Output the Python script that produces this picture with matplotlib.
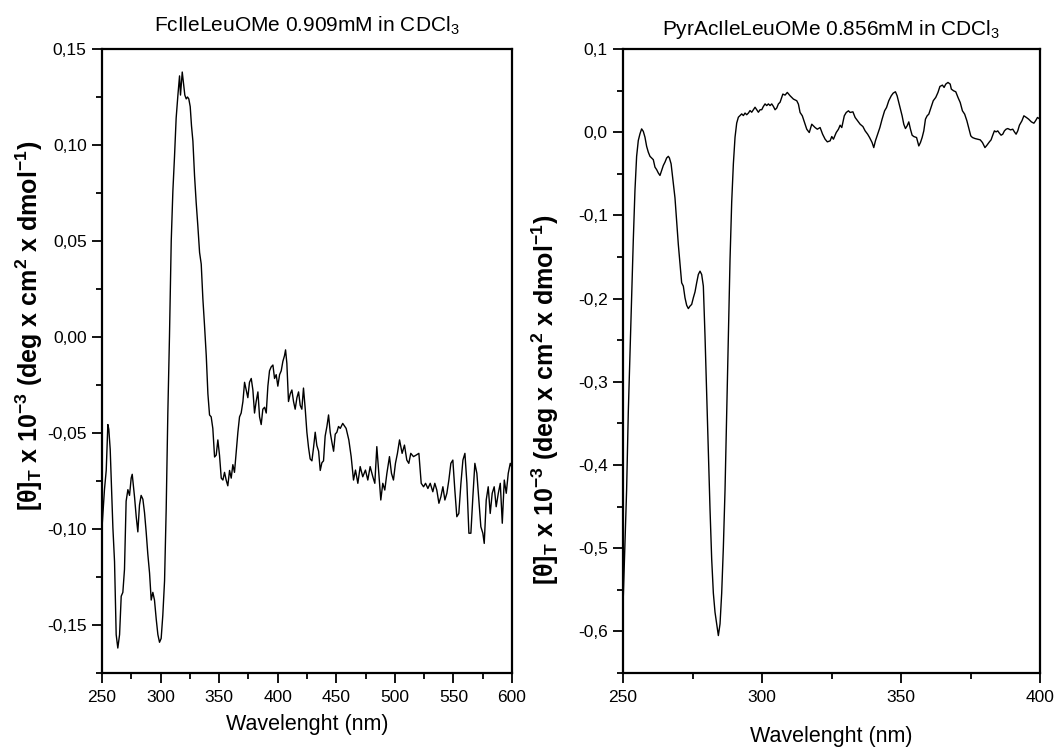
import matplotlib
matplotlib.use("Agg")
import matplotlib.pyplot as plt
from matplotlib.ticker import FixedLocator, FixedFormatter, MultipleLocator

plt.rcParams['font.family'] = ['Liberation Sans', 'DejaVu Sans']
plt.rcParams['mathtext.fontset'] = 'custom'
plt.rcParams['mathtext.rm'] = 'Liberation Sans'
plt.rcParams['mathtext.it'] = 'Liberation Sans:italic'
plt.rcParams['mathtext.bf'] = 'Liberation Sans:bold'

# ---- CD spectrum: FcIleLeuOMe 0.909 mM in CDCl3 ----
fc_wavelength = [
    250.0, 252.1, 253.6, 255.0, 255.8, 257.0, 258.1, 259.3, 260.7, 262.1,
    263.5, 265.0, 266.4, 267.8, 269.2, 270.6, 272.1, 273.5, 274.9, 275.8,
    277.8, 279.2, 280.6, 282.0, 283.4, 284.9, 286.3, 287.7, 289.1, 290.6,
    292.0, 293.4, 294.8, 296.3, 297.7, 299.1, 300.5, 301.9, 303.4, 304.8,
    306.2, 307.6, 309.1, 310.5, 311.9, 313.3, 314.8, 316.2, 317.0, 318.5,
    319.6, 320.7, 321.9, 323.0, 324.1, 325.3, 326.4, 327.6, 329.0, 330.4,
    331.8, 333.3, 334.7, 336.1, 337.5, 339.0, 340.4, 341.8, 343.2, 344.6,
    346.1, 347.5, 348.9, 350.3, 351.8, 353.2, 354.6, 356.0, 357.4, 358.9,
    360.3, 361.7, 363.1, 364.6, 366.0, 367.4, 368.8, 370.3, 371.7, 373.1,
    374.5, 375.9, 377.4, 378.8, 380.2, 381.6, 383.1, 384.5, 385.9, 387.3,
    388.8, 390.2, 391.6, 393.0, 394.4, 395.9, 397.3, 398.7, 400.1, 401.6,
    403.0, 404.4, 405.8, 406.7, 407.8, 409.2, 410.7, 412.1, 413.5, 414.9,
    416.4, 417.8, 419.2, 420.6, 422.0, 423.5, 424.9, 426.3, 427.7, 429.2,
    430.6, 432.0, 433.4, 434.9, 436.3, 437.7, 439.1, 440.5, 442.0, 443.4,
    444.8, 446.2, 447.7, 449.1, 450.5, 451.9, 453.4, 455.5, 458.4, 460.7,
    462.7, 464.7, 466.4, 468.4, 470.4, 472.6, 474.9, 476.9, 478.9, 481.2,
    482.9, 484.6, 486.3, 488.0, 489.7, 491.4, 493.2, 495.4, 497.1, 498.8,
    500.5, 502.2, 504.0, 506.2, 508.2, 510.2, 511.9, 513.6, 515.9, 518.2,
    520.5, 522.5, 524.5, 526.2, 528.2, 530.2, 532.4, 534.1, 535.8, 537.6,
    539.3, 541.0, 542.7, 544.4, 546.1, 547.8, 549.5, 551.2, 552.9, 554.6,
    556.4, 558.1, 559.8, 561.5, 563.2, 564.9, 566.6, 568.3, 570.0, 571.7,
    573.4, 575.1, 576.3, 578.0, 579.7, 581.4, 583.1, 584.8, 586.5, 588.3,
    590.0, 591.7, 593.4, 595.1, 596.8, 598.5, 600.0,
]
fc_theta = [
    -0.0994, -0.0795, -0.0695, -0.0456, -0.0480, -0.0585, -0.0775, -0.0994, -0.1170, -0.1550,
    -0.1620, -0.1550, -0.1350, -0.1330, -0.1210, -0.0855, -0.0795, -0.0825, -0.0735, -0.0715,
    -0.0835, -0.0935, -0.1015, -0.0875, -0.0825, -0.0845, -0.0915, -0.1015, -0.1130, -0.1230,
    -0.1370, -0.1330, -0.1370, -0.1470, -0.1550, -0.1590, -0.1570, -0.1450, -0.1270, -0.0895,
    -0.0396, 0.0003, 0.0500, 0.0760, 0.0940, 0.1140, 0.1260, 0.1360, 0.1260, 0.1380,
    0.1320, 0.1260, 0.1240, 0.1250, 0.1240, 0.1200, 0.1100, 0.1020, 0.0840, 0.0700,
    0.0580, 0.0440, 0.0380, 0.0200, 0.0062, -0.0097, -0.0296, -0.0406, -0.0416, -0.0476,
    -0.0625, -0.0615, -0.0536, -0.0615, -0.0735, -0.0745, -0.0705, -0.0745, -0.0775, -0.0695,
    -0.0735, -0.0665, -0.0705, -0.0595, -0.0496, -0.0416, -0.0396, -0.0336, -0.0236, -0.0276,
    -0.0316, -0.0236, -0.0216, -0.0276, -0.0396, -0.0336, -0.0286, -0.0416, -0.0456, -0.0376,
    -0.0366, -0.0396, -0.0256, -0.0176, -0.0156, -0.0146, -0.0216, -0.0196, -0.0256, -0.0196,
    -0.0176, -0.0127, -0.0097, -0.0067, -0.0137, -0.0336, -0.0296, -0.0276, -0.0336, -0.0376,
    -0.0316, -0.0286, -0.0356, -0.0376, -0.0266, -0.0376, -0.0496, -0.0575, -0.0635, -0.0645,
    -0.0575, -0.0496, -0.0565, -0.0595, -0.0695, -0.0655, -0.0645, -0.0516, -0.0466, -0.0406,
    -0.0496, -0.0546, -0.0595, -0.0506, -0.0496, -0.0466, -0.0476, -0.0450, -0.0476, -0.0536,
    -0.0623, -0.0745, -0.0693, -0.0762, -0.0675, -0.0728, -0.0693, -0.0745, -0.0675, -0.0728,
    -0.0762, -0.0571, -0.0710, -0.0849, -0.0762, -0.0797, -0.0710, -0.0623, -0.0710, -0.0745,
    -0.0658, -0.0606, -0.0536, -0.0606, -0.0563, -0.0641, -0.0658, -0.0606, -0.0623, -0.0615,
    -0.0606, -0.0762, -0.0780, -0.0762, -0.0789, -0.0762, -0.0806, -0.0762, -0.0797, -0.0866,
    -0.0832, -0.0780, -0.0849, -0.0814, -0.0745, -0.0658, -0.0641, -0.0797, -0.0936, -0.0919,
    -0.0762, -0.0641, -0.0606, -0.0762, -0.1022, -0.1022, -0.0832, -0.0658, -0.0710, -0.0849,
    -0.0988, -0.1022, -0.1075, -0.0849, -0.0780, -0.0919, -0.0814, -0.0780, -0.0884, -0.0814,
    -0.0762, -0.0970, -0.0745, -0.0814, -0.0710, -0.0658, -0.0680,
]

# ---- CD spectrum: PyrAcIleLeuOMe 0.856 mM in CDCl3 ----
pyr_wavelength = [
    250.0, 251.3, 251.9, 252.5, 253.1, 253.7, 254.3, 254.9, 255.5, 256.1,
    256.7, 257.3, 257.9, 258.5, 259.1, 259.7, 260.3, 260.9, 261.5, 262.1,
    262.7, 263.3, 263.9, 264.5, 265.1, 265.7, 266.3, 266.7, 267.3, 267.9,
    268.7, 269.3, 269.9, 270.5, 271.1, 271.7, 272.3, 272.9, 273.5, 274.1,
    274.7, 275.3, 275.9, 276.5, 277.1, 277.7, 278.3, 278.9, 279.5, 280.1,
    280.7, 281.3, 281.9, 282.5, 283.1, 283.7, 284.3, 284.9, 285.5, 286.1,
    286.7, 287.3, 287.9, 288.5, 289.1, 289.7, 290.3, 290.9, 291.5, 292.1,
    292.7, 293.3, 293.9, 294.5, 295.1, 295.7, 296.3, 296.9, 297.5, 298.1,
    298.7, 299.3, 299.9, 300.5, 301.1, 301.7, 302.3, 302.9, 303.5, 304.1,
    304.7, 305.3, 305.9, 306.5, 307.5, 308.3, 309.1, 310.1, 311.3, 312.5,
    313.1, 313.7, 314.5, 315.1, 316.1, 317.0, 317.9, 319.1, 319.9, 320.9,
    321.8, 322.7, 323.5, 324.5, 325.1, 325.7, 326.7, 327.5, 328.1, 328.7,
    329.6, 330.3, 331.1, 331.7, 332.7, 333.5, 334.4, 335.3, 336.3, 337.1,
    338.0, 338.7, 339.6, 340.2, 340.8, 341.4, 342.4, 343.2, 344.1, 344.8,
    345.6, 346.5, 347.2, 348.0, 348.6, 349.2, 349.8, 350.4, 351.0, 351.6,
    352.2, 352.8, 353.4, 354.0, 354.6, 355.6, 356.4, 357.0, 357.6, 358.2,
    358.8, 359.4, 360.0, 360.6, 361.6, 362.5, 363.3, 364.0, 364.9, 365.5,
    366.1, 366.9, 367.7, 368.1, 368.9, 369.7, 370.5, 371.3, 372.1, 372.9,
    373.7, 374.5, 375.1, 375.7, 376.6, 377.5, 378.5, 379.3, 380.2, 380.9,
    381.8, 382.4, 383.0, 383.6, 384.2, 384.8, 385.4, 386.0, 386.6, 387.2,
    387.8, 388.4, 389.4, 390.2, 390.8, 391.4, 392.0, 392.6, 393.5, 394.2,
    395.1, 395.9, 396.9, 397.8, 398.4, 399.1, 400.0,
]
pyr_theta = [
    -0.570, -0.430, -0.337, -0.268, -0.199, -0.130, -0.070, -0.029, -0.010, -0.002,
    0.004, 0.001, -0.006, -0.017, -0.024, -0.029, -0.031, -0.033, -0.042, -0.045,
    -0.049, -0.052, -0.046, -0.040, -0.036, -0.031, -0.029, -0.031, -0.038, -0.056,
    -0.079, -0.107, -0.135, -0.158, -0.181, -0.185, -0.199, -0.208, -0.212, -0.209,
    -0.207, -0.199, -0.192, -0.181, -0.171, -0.167, -0.171, -0.185, -0.245, -0.314,
    -0.384, -0.453, -0.513, -0.554, -0.577, -0.591, -0.605, -0.591, -0.554, -0.499,
    -0.430, -0.337, -0.245, -0.153, -0.084, -0.038, -0.006, 0.011, 0.018, 0.020,
    0.022, 0.020, 0.023, 0.021, 0.023, 0.026, 0.024, 0.027, 0.030, 0.027,
    0.024, 0.027, 0.027, 0.031, 0.034, 0.032, 0.034, 0.032, 0.034, 0.031,
    0.027, 0.029, 0.034, 0.036, 0.0458, 0.0446, 0.0478, 0.0438, 0.0398, 0.0378,
    0.0337, 0.0237, 0.0197, 0.0137, 0.0036, -0.0004, 0.0096, 0.0056, 0.0036, 0.0056,
    -0.0024, -0.0084, -0.0116, -0.0104, -0.0052, -0.0084, -0.0004, 0.0036, 0.0084, 0.0056,
    0.0197, 0.0237, 0.0257, 0.0237, 0.0245, 0.0177, 0.0137, 0.0096, 0.0068, 0.0016,
    -0.0024, -0.0064, -0.0124, -0.0185, -0.0104, -0.0044, 0.0056, 0.0157, 0.0257, 0.0297,
    0.0378, 0.0438, 0.0470, 0.0486, 0.0438, 0.0357, 0.0277, 0.0197, 0.0096, 0.0044,
    0.0076, 0.0124, 0.0036, -0.0036, -0.0052, -0.0064, -0.0165, -0.0124, -0.0064, 0.0016,
    0.0157, 0.0197, 0.0217, 0.0277, 0.0378, 0.0418, 0.0478, 0.0550, 0.0566, 0.0538,
    0.0578, 0.0598, 0.0578, 0.0518, 0.0498, 0.0486, 0.0418, 0.0357, 0.0257, 0.0217,
    0.0137, 0.0036, -0.0044, -0.0064, -0.0076, -0.0084, -0.0092, -0.0124, -0.0185, -0.0157,
    -0.0116, -0.0092, -0.0036, 0.0016, 0.0004, 0.0016, -0.0012, -0.0036, -0.0024, 0.0016,
    0.0036, 0.0044, 0.0028, 0.0036, 0.0004, -0.0024, 0.0016, 0.0084, 0.0137, 0.0197,
    0.0177, 0.0157, 0.0124, 0.0108, 0.0137, 0.0177, 0.0157,
]

# ---- axis ticks and labels ----
fc_xticks = [250, 300, 350, 400, 450, 500, 550, 600]
fc_xticklabels = ['250', '300', '350', '400', '450', '500', '550', '600']
fc_yticks = [-0.15, -0.10, -0.05, 0.00, 0.05, 0.10, 0.15]
fc_yticklabels = ['-0,15', '-0,10', '-0,05', '0,00', '0,05', '0,10', '0,15']

pyr_xticks = [250, 300, 350, 400]
pyr_xticklabels = ['250', '300', '350', '400']
pyr_yticks = [-0.6, -0.5, -0.4, -0.3, -0.2, -0.1, 0.0, 0.1]
pyr_yticklabels = ['-0,6', '-0,5', '-0,4', '-0,3', '-0,2', '-0,1', '0,0', '0,1']

fc_title = 'FcIleLeuOMe 0.909mM in CDCl$_3$'
pyr_title = 'PyrAcIleLeuOMe 0.856mM in CDCl$_3$'
x_label = 'Wavelenght (nm)'
y_label = (r'[θ]$_\mathbf{T}$ x 10$^\mathbf{-3}$ (deg x cm$^\mathbf{2}$'
           r' x dmol$^\mathbf{-1}$)')

W, H = 1056, 747
fig = plt.figure(figsize=(W / 100, H / 100), dpi=100)
fig.patch.set_facecolor('white')

ax1 = fig.add_axes([102 / W, 1 - 673 / H, 410 / W, 624 / H])
ax2 = fig.add_axes([623 / W, 1 - 673 / H, 417 / W, 624 / H])


def style_axes(ax, xticks, xlabels, yticks, ylabels, xminor, yminor):
    for side in ['left', 'right', 'top', 'bottom']:
        ax.spines[side].set_linewidth(1.6)
        ax.spines[side].set_color('black')
    ax.xaxis.set_major_locator(FixedLocator(xticks))
    ax.xaxis.set_major_formatter(FixedFormatter(xlabels))
    ax.yaxis.set_major_locator(FixedLocator(yticks))
    ax.yaxis.set_major_formatter(FixedFormatter(ylabels))
    ax.xaxis.set_minor_locator(MultipleLocator(xminor))
    ax.yaxis.set_minor_locator(MultipleLocator(yminor))
    ax.tick_params(which='both', direction='out', top=False, right=False,
                   width=1.3, colors='black')
    ax.tick_params(which='major', length=7, labelsize=12.5)
    ax.tick_params(which='minor', length=4)
    ax.tick_params(axis='x', which='major', pad=5)
    ax.tick_params(axis='y', which='major', pad=4)


ax1.plot(fc_wavelength, fc_theta, color='black', linewidth=1.0)
ax1.set_xlim(250, 600)
ax1.set_ylim(-0.175, 0.15)
style_axes(ax1, fc_xticks, fc_xticklabels, fc_yticks, fc_yticklabels, 25, 0.025)

ax2.plot(pyr_wavelength, pyr_theta, color='black', linewidth=1.0)
ax2.set_xlim(250, 400)
ax2.set_ylim(-0.65, 0.1)
style_axes(ax2, pyr_xticks, pyr_xticklabels, pyr_yticks, pyr_yticklabels, 25, 0.05)

# titles
fig.text(307 / W, 1 - 32 / H, fc_title, ha='center', va='baseline', fontsize=15)
fig.text(831 / W, 1 - 35 / H, pyr_title, ha='center', va='baseline', fontsize=15)

# x labels
fig.text(307 / W, 1 - 730 / H, x_label, ha='center', va='baseline', fontsize=15.5)
fig.text(831 / W, 1 - 742 / H, x_label, ha='center', va='baseline', fontsize=15.5)

# y labels
fig.text(29 / W, 1 - 326 / H, y_label, rotation=90, ha='center', va='center',
         fontsize=18, fontweight='bold')
fig.text(545 / W, 1 - 400 / H, y_label, rotation=90, ha='center', va='center',
         fontsize=18, fontweight='bold')

fig.savefig('out.png', dpi=100, facecolor='white')
